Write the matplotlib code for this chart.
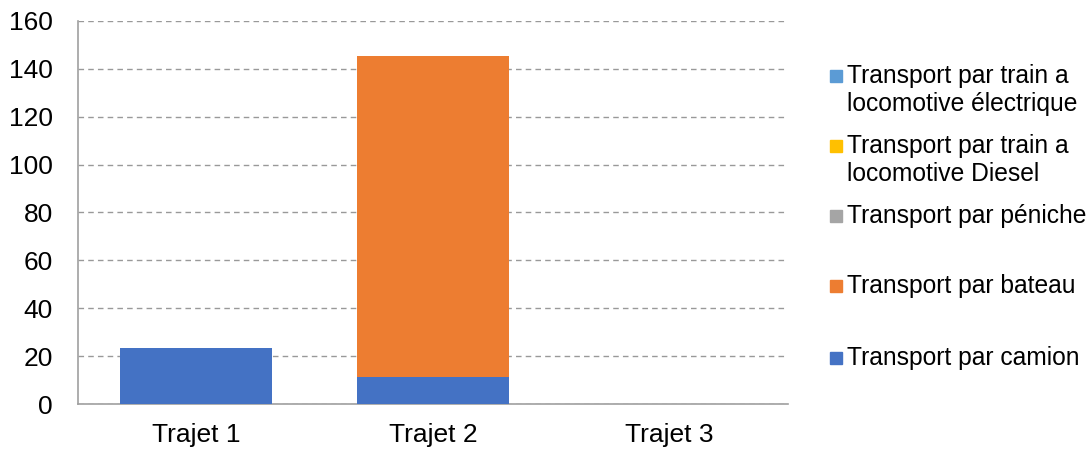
import numpy as np
import matplotlib.pyplot as plt
from matplotlib.patches import Rectangle

plt.rcParams['font.family'] = ['Liberation Sans', 'DejaVu Sans']

trajets = ['Trajet 1', 'Trajet 2', 'Trajet 3']
series = ['Transport par camion', 'Transport par bateau', 'Transport par péniche',
          'Transport par train a\nlocomotive Diesel',
          'Transport par train a\nlocomotive électrique']
camion = [23.3, 11.3, 0]
bateau = [0, 134.1, 0]
peniche = [0, 0, 0]
diesel = [0, 0, 0]
electrique = [0, 0, 0]
colors = ['#4472C4', '#ED7D31', '#A5A5A5', '#FFC000', '#5B9BD5']

W, H = 1088, 451
fig = plt.figure(figsize=(W / 100, H / 100), dpi=100)
ax = fig.add_axes([78 / W, 1 - 404 / H, (788 - 78) / W, (404 - 21) / H])

x = np.arange(len(trajets))
bottom = np.zeros(len(trajets))
for vals, col in zip([camion, bateau, peniche, diesel, electrique], colors):
    ax.bar(x, vals, 0.643, bottom=bottom, color=col, zorder=3)
    bottom += np.array(vals)

ax.set_xlim(-0.5, 2.5)
ax.set_ylim(0, 160)
ax.set_yticks(range(0, 161, 20))
ax.set_xticks(x)
ax.set_xticklabels(trajets)
ax.tick_params(length=0, labelsize=19)
ax.tick_params(axis='y', pad=18)
ax.tick_params(axis='x', pad=14)
ax.yaxis.grid(True, color='#999999', linestyle=(0, (4, 3)), linewidth=1, zorder=0)
for s in ['top', 'right']:
    ax.spines[s].set_visible(False)
for s in ['left', 'bottom']:
    ax.spines[s].set_color('#A0A0A0')
    ax.spines[s].set_linewidth(1.2)

# legend, placed by hand like the Excel layout (top entry = last series)
baselines = [83, 153, 223, 293, 365]
for i, (lab, col) in enumerate(zip(series[::-1], colors[::-1])):
    b = baselines[i]
    fig.patches.append(Rectangle((830 / W, 1 - (b - 1) / H), 12 / W, 12 / H,
                                 transform=fig.transFigure, color=col))
    for j, line in enumerate(lab.split('\n')):
        fig.text(847 / W, 1 - (b + 28 * j) / H, line, fontsize=17.7,
                 va='baseline', ha='left', color='#000000')

fig.savefig('out.png', dpi=100)
